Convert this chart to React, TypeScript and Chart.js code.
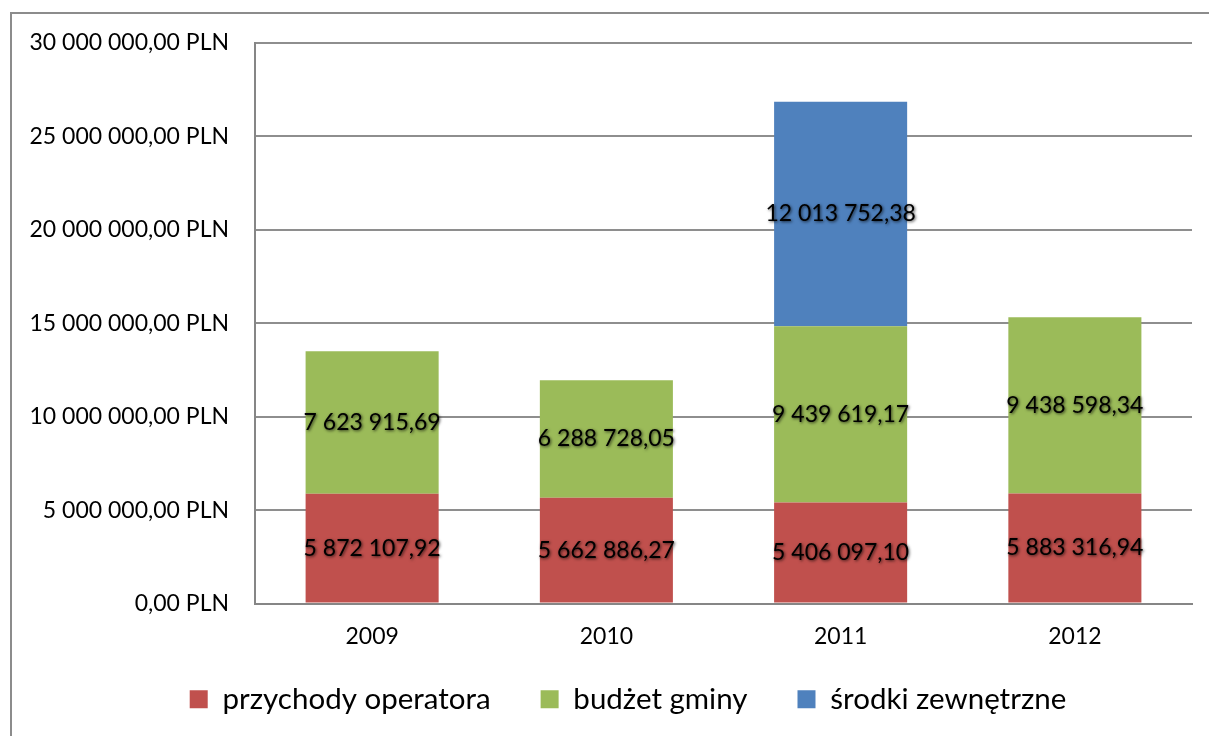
import React, { useEffect, useRef } from "react";
import { Chart, registerables } from "chart.js";

Chart.register(...registerables);

const categories = ["2009", "2010", "2011", "2012"];
const seriesNames = ["przychody operatora", "budżet gminy", "środki zewnętrzne"];
const przychodyOperatora = [5872107.92, 5662886.27, 5406097.1, 5883316.94];
const budzetGminy = [7623915.69, 6288728.05, 9439619.17, 9438598.34];
const srodkiZewnetrzne = [null, null, 12013752.38, null];
const yTicksMin = 0;
const yTicksMax = 30000000;
const yTicksStep = 5000000;

const COLORS = ["#C0504D", "#9BBB59", "#4F81BD"];
const FONT = "Lato";

function fmt(v: number): string {
  const [i, d] = v.toFixed(2).split(".");
  return i.replace(/\B(?=(\d{3})+(?!\d))/g, " ") + "," + d;
}

const dataLabelsPlugin = {
  id: "segLabels",
  afterDatasetsDraw(chart: any) {
    const ctx = chart.ctx;
    ctx.save();
    ctx.font = `23px ${FONT}`;
    ctx.fillStyle = "#000";
    ctx.textAlign = "center";
    ctx.textBaseline = "middle";
    ctx.shadowColor = "rgba(0,0,0,0.7)";
    ctx.shadowBlur = 3;
    ctx.shadowOffsetX = 1;
    ctx.shadowOffsetY = 1;
    chart.data.datasets.forEach((ds: any, di: number) => {
      const meta = chart.getDatasetMeta(di);
      meta.data.forEach((el: any, i: number) => {
        const v = ds.data[i];
        if (v === null || v === undefined || v === 0) return;
        const p = el.getCenterPoint();
        ctx.fillText(fmt(v), p.x, p.y);
      });
    });
    ctx.restore();
  },
};

// let the axis labels draw outside their layout boxes (no clipping)
const unclipPlugin = {
  id: "unclipLabels",
  afterLayout(chart: any) {
    if (chart.scales.x) chart.scales.x.bottom = chart.height;
    if (chart.scales.y) chart.scales.y.left = 0;
  },
};

export default function App() {
  const ref = useRef<HTMLCanvasElement>(null);
  useEffect(() => {
    let chart: Chart | null = null;
    let cancelled = false;
    const make = () => {
      if (cancelled || !ref.current) return;
      Chart.defaults.font.family = FONT;
      chart = new Chart(ref.current, {
        type: "bar",
        data: {
          labels: categories,
          datasets: [
            { label: seriesNames[0], data: przychodyOperatora, backgroundColor: COLORS[0], borderWidth: 0 },
            { label: seriesNames[1], data: budzetGminy, backgroundColor: COLORS[1], borderWidth: 0 },
            { label: seriesNames[2], data: srodkiZewnetrzne as any, backgroundColor: COLORS[2], borderWidth: 0 },
          ],
        },
        options: {
          responsive: false,
          animation: false,
          layout: { padding: { left: 64, right: 17, top: 43, bottom: 12 } },
          datasets: { bar: { categoryPercentage: 1, barPercentage: 0.568 } } as any,
          plugins: {
            tooltip: { enabled: false },
            legend: {
              position: "bottom",
              labels: {
                color: "#000",
                font: { size: 29.5, family: FONT },
                boxWidth: 18,
                boxHeight: 18,
                padding: 50,
              },
            },
          },
          scales: {
            x: {
              stacked: true,
              grid: { display: false, drawTicks: false },
              border: { display: true, color: "#868686", width: 2 },
              ticks: { color: "#000", font: { size: 23, family: FONT }, padding: 19 },
              afterFit: (s: any) => { s.height = 31; },
            },
            y: {
              stacked: true,
              min: yTicksMin,
              max: yTicksMax,
              grid: { color: "#8e8e8e", lineWidth: 2, drawTicks: false },
              border: { display: true, color: "#868686", width: 2 },
              ticks: {
                stepSize: yTicksStep,
                color: "#000",
                font: { size: 23, family: FONT },
                padding: 26,
                callback: (v: any) => fmt(Number(v)) + " PLN",
              },
              afterFit: (s: any) => { s.width = 191; },
            },
          },
        },
        plugins: [dataLabelsPlugin, unclipPlugin],
      });
    };
    if ((document as any).fonts && (document as any).fonts.load) {
      (document as any).fonts.load(`23px ${FONT}`).then(make, make);
    } else {
      make();
    }
    return () => {
      cancelled = true;
      if (chart) chart.destroy();
    };
  }, []);

  return (
    <div style={{ position: "fixed", left: 0, top: 0, width: 1209, height: 736, overflow: "hidden", background: "#fff" }}>
      <div
        style={{
          position: "absolute",
          left: 10,
          top: 12,
          width: 1400,
          height: 1000,
          border: "2px solid #8c8c8c",
          boxSizing: "border-box",
        }}
      />
      <canvas ref={ref} width={1209} height={736} style={{ position: "absolute", left: 0, top: 0 }} />
    </div>
  );
}
